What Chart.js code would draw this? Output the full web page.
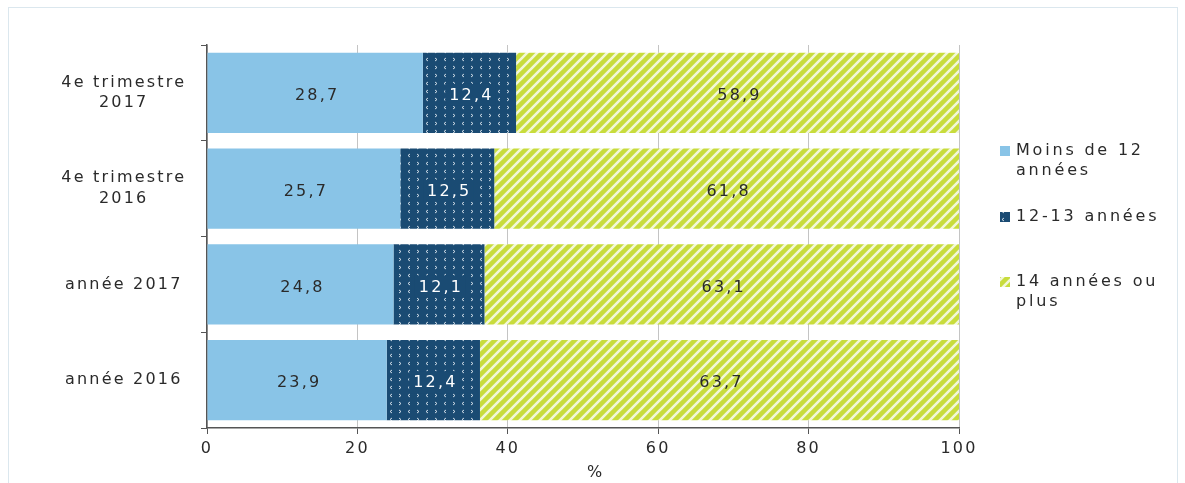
<!DOCTYPE html>
<html>
<head>
<meta charset="utf-8">
<script src="https://cdn.jsdelivr.net/npm/chart.js@4/dist/chart.umd.min.js"></script>
<style>
  body { margin:0; background:#fff; }
  #frame { position:absolute; left:8px; top:7px; width:1168px; height:490px; border:1px solid #dbe7ee; }
  #c { position:absolute; left:0; top:0; }
</style>
</head>
<body>
<div id="frame"></div>
<canvas id="c" width="1185" height="483"></canvas>
<script>
const categories = [["4e trimestre","2017"], ["4e trimestre","2016"], "année 2017", "année 2016"];
const moins12 = [28.7, 25.7, 24.8, 23.9];
const ans1213 = [12.4, 12.5, 12.1, 12.4];
const ans14 = [58.9, 61.8, 63.1, 63.7];
const seriesNames = [["Moins de 12","années"], ["12-13 années"], ["14 années ou","plus"]];
const xTicks = [0, 20, 40, 60, 80, 100];
const xTitle = "%";

const FONT = "'DejaVu Sans', sans-serif";
const TXT = "#2a2a2a";
const SPACING = "2.2px";

function fmt(v){ return v.toFixed(1).replace(".", ","); }

// pattern tiles
function dotsPattern(){
  const c = document.createElement("canvas"); c.width = 18; c.height = 16;
  const g = c.getContext("2d");
  g.fillStyle = "#1a4b73"; g.fillRect(0,0,18,16);
  g.strokeStyle = "rgba(235,242,248,0.85)"; g.lineWidth = 1;
  const mark = (x,y,dir)=>{ g.beginPath(); g.moveTo(x,y); g.lineTo(x+dir*2,y+1.5); g.lineTo(x,y+3); g.stroke(); };
  mark(3,2,1); mark(14,2,-1); mark(14,10,-1); mark(3,10,1);
  return g.createPattern(c, "repeat");
}
function stripePattern(){
  const c = document.createElement("canvas"); c.width = 10; c.height = 10;
  const g = c.getContext("2d");
  g.fillStyle = "#c8dc3c"; g.fillRect(0,0,10,10);
  g.strokeStyle = "#f2f7d8"; g.lineWidth = 2.6;
  g.beginPath();
  g.moveTo(-5,5); g.lineTo(5,-5);
  g.moveTo(0,10); g.lineTo(10,0);
  g.moveTo(5,15); g.lineTo(15,5);
  g.stroke();
  return g.createPattern(c, "repeat");
}

const fills = ["#89c4e7", dotsPattern(), stripePattern()];
const labelColors = [TXT, "#ffffff", TXT];

const spacingPlugin = {
  id: "spacing",
  beforeInit(chart){ chart.ctx.letterSpacing = SPACING; },
  beforeDraw(chart){ chart.ctx.letterSpacing = SPACING; }
};

const valueLabels = {
  id: "valueLabels",
  afterDatasetsDraw(chart){
    const ctx = chart.ctx;
    ctx.save();
    ctx.font = "16px " + FONT;
    ctx.textAlign = "center"; ctx.textBaseline = "middle";
    chart.data.datasets.forEach((ds, i)=>{
      chart.getDatasetMeta(i).data.forEach((bar, j)=>{
        const x = (bar.x + bar.base)/2, y = bar.y;
        const t = fmt(ds.data[j]);
        if(i === 1){
          const w = ctx.measureText(t).width + 6;
          ctx.fillStyle = "#1a4b73";
          ctx.fillRect(x - w/2 + 1, y - 9, w, 22);
        }
        ctx.fillStyle = labelColors[i];
        ctx.fillText(t, x + 2, y + 3);
      });
    });
    ctx.restore();
  }
};

const sideLegend = {
  id: "sideLegend",
  afterDraw(chart){
    const ctx = chart.ctx;
    const rows = [151, 217, 282];
    ctx.save();
    ctx.font = "16px " + FONT;
    ctx.letterSpacing = "2.8px";
    ctx.textAlign = "left"; ctx.textBaseline = "middle";
    seriesNames.forEach((lines, i)=>{
      ctx.fillStyle = fills[i];
      ctx.fillRect(1000, rows[i] - 5, 10, 10);
      ctx.fillStyle = TXT;
      lines.forEach((l, k)=> ctx.fillText(l, 1016, rows[i] + k*20));
    });
    // axis title
    const x = chart.scales.x;
    ctx.textAlign = "center";
    ctx.fillText(xTitle, 596, x.bottom - 10);
    ctx.restore();
  }
};

const ds = [moins12, ans1213, ans14].map((d, i)=>({
  label: seriesNames[i].join(" "),
  data: d,
  backgroundColor: fills[i],
  borderWidth: 0,
  barPercentage: 0.84,
  categoryPercentage: 1
}));

new Chart(document.getElementById("c"), {
  type: "bar",
  data: { labels: categories, datasets: ds },
  plugins: [spacingPlugin, valueLabels, sideLegend],
  options: {
    indexAxis: "y",
    responsive: false,
    animation: false,
    devicePixelRatio: 1,
    layout: { padding: { top: 45, right: 226, left: 0, bottom: 0 } },
    plugins: { legend: { display: false }, tooltip: { enabled: false } },
    scales: {
      x: {
        stacked: true, min: 0, max: 100,
        afterBuildTicks: (s)=>{ s.ticks = xTicks.map(v=>({value:v})); },
        afterFit: (s)=>{ s.height = 55; },
        grid: { color: "#c4c4c4", tickColor: "#555", tickLength: 6, lineWidth: 1 },
        border: { color: "#555", width: 1.5 },
        ticks: { color: TXT, font: { family: FONT, size: 16 }, padding: 5 }
      },
      y: {
        stacked: true,
        afterFit: (s)=>{ s.width = 207; },
        grid: { drawOnChartArea: false, tickColor: "#555", tickLength: 6, offset: true },
        border: { color: "#555", width: 1.5 },
        ticks: { color: TXT, font: { family: FONT, size: 16, lineHeight: 1.3 }, padding: 28, crossAlign: "center" }
      }
    }
  }
});
</script>
</body>
</html>
